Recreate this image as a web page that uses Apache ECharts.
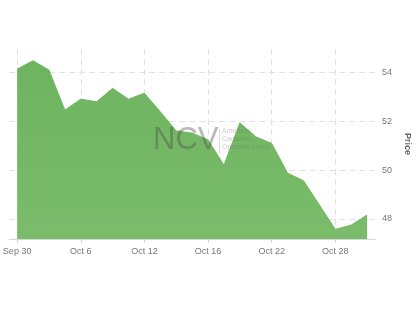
<!DOCTYPE html>
<html>
<head>
<meta charset="utf-8">
<script src="https://cdn.jsdelivr.net/npm/echarts@6/dist/echarts.min.js"></script>
<style>html,body{margin:0;padding:0;background:#fff;}#c{width:420px;height:322px;}</style>
</head>
<body>
<div id="c"></div>
<script>
const categories = ['Sep 30','Oct 1','Oct 3','Oct 4','Oct 6','Oct 7','Oct 9','Oct 10','Oct 12','Oct 13','Oct 14','Oct 15','Oct 16','Oct 17','Oct 18','Oct 20','Oct 22','Oct 23','Oct 24','Oct 26','Oct 28','Oct 29','Oct 30'];
const prices = [54.13,54.47,54.09,52.45,52.90,52.79,53.34,52.90,53.14,52.38,51.60,51.51,51.23,50.20,51.93,51.36,51.09,49.87,49.56,48.57,47.57,47.75,48.16];
const yMin = 47.18;
const yMax = 54.95;

const chart = echarts.init(document.getElementById('c'), null, {renderer: 'canvas'});
chart.setOption({
  animation: false,
  backgroundColor: '#ffffff',
  grid: {left: 6, right: 42, top: 49, bottom: 83, containLabel: false},
  xAxis: {
    type: 'category',
    data: categories,
    boundaryGap: true,
    axisLine: {show: true, lineStyle: {color: '#d6d6d6', width: 1}},
    axisTick: {show: true, alignWithLabel: true, interval: 3, length: 4, lineStyle: {color: '#d6d6d6'}},
    axisLabel: {interval: 3, color: '#777', fontSize: 9, fontFamily: 'Liberation Sans, Arial, sans-serif', margin: 8},
    splitLine: {show: true, alignWithLabel: true, interval: 3, lineStyle: {color: '#e2e2e2', type: [6, 4], width: 1}}
  },
  yAxis: {
    type: 'value',
    position: 'right',
    min: yMin,
    max: yMax,
    splitNumber: 4,
    name: 'Price',
    nameLocation: 'middle',
    nameGap: 15,
    nameRotate: -90,
    nameTextStyle: {color: '#666', fontSize: 9, fontWeight: 'bold', fontFamily: 'Liberation Sans, Arial, sans-serif'},
    axisLine: {show: false},
    axisTick: {show: false},
    axisLabel: {color: '#777', fontSize: 9, margin: 7, showMinLabel: false, showMaxLabel: false, fontFamily: 'Liberation Sans, Arial, sans-serif'},
    splitLine: {show: true, showMinLine: false, showMaxLine: false, lineStyle: {color: '#e2e2e2', type: [6, 4], width: 1}}
  },
  graphic: [
    {type: 'text', left: 153, top: 125, z: 100, style: {text: 'NCV', font: '31px Liberation Sans, Arial, sans-serif', fill: 'rgba(70,70,70,0.38)'}},
    {type: 'rect', left: 219, top: 129, z: 100, shape: {width: 1, height: 24}, style: {fill: 'rgba(150,150,150,0.35)'}},
    {type: 'text', left: 222, top: 127, z: 100, style: {text: 'American\nCannabis\nOperator Index', font: '7px Liberation Sans, Arial, sans-serif', lineHeight: 8, fill: 'rgba(110,110,110,0.35)'}}
  ],
  series: [{
    type: 'line',
    data: prices,
    symbol: 'none',
    lineStyle: {color: '#71b662', width: 1},
    areaStyle: {
      opacity: 1,
      origin: 'start',
      color: new echarts.graphic.LinearGradient(0, 0, 0, 1, [
        {offset: 0, color: '#6eb45f'},
        {offset: 1, color: '#7abc6b'}
      ])
    }
  }]
});
</script>
</body>
</html>
